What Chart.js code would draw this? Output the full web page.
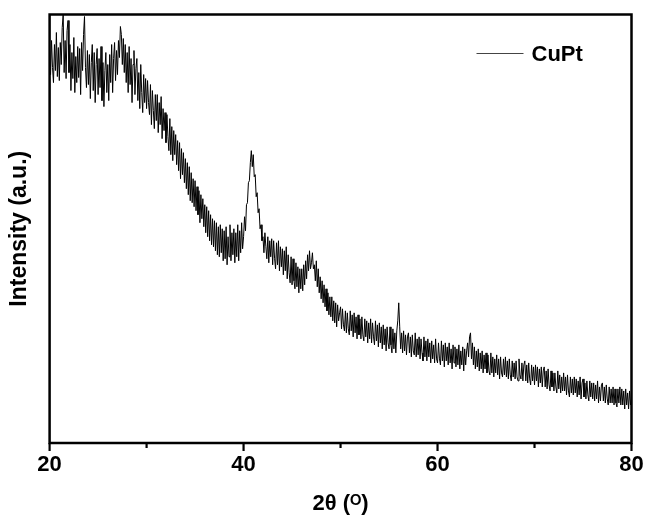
<!DOCTYPE html>
<html>
<head>
<meta charset="utf-8">
<script src="https://cdn.jsdelivr.net/npm/chart.js@4/dist/chart.umd.min.js"></script>
<style>
  html, body { margin: 0; padding: 0; background: #fff; }
  #wrap { width: 646px; height: 518px; }
</style>
</head>
<body>
<div id="wrap"><canvas id="c" width="646" height="518"></canvas></div>
<script>
// ---- data ----
const seriesName = 'CuPt';
const thetaStart = 20;      // first 2θ sample (degrees)
const thetaStep = 0.1;      // sampling step (degrees)
const xTickLabels = [20, 40, 60, 80];
const xMinorTicks = [30, 50, 70];
// one row per degree: 2θ = n.0, n.1, ... n.9
const intensity = [
  392, 368, 402, 375, 360, 398, 372, 410, 366, 395,
  362, 400, 378, 415, 428, 370, 402, 364, 412, 422,
  370, 398, 352, 390, 364, 405, 350, 386, 360, 396,
  365, 394, 348, 400, 372, 408, 426, 375, 355, 392,
  358, 388, 344, 380, 398, 352, 390, 340, 378, 394,
  348, 384, 355, 396, 342, 380, 336, 372, 390, 350,
  378, 342, 388, 360, 398, 350, 384, 400, 362, 392,
  368, 402, 385, 416, 408, 378, 404, 370, 398, 360,
  390, 350, 396, 358, 384, 340, 378, 392, 348, 374,
  384, 342, 370, 334, 378, 350, 330, 368, 340, 364,
  334, 362, 340, 328, 358, 318, 352, 332, 314, 348,
  322, 348, 310, 340, 318, 346, 304, 334, 312, 330,
  300, 328, 306, 292, 324, 288, 316, 282, 312, 288,
  308, 278, 302, 272, 300, 264, 294, 268, 290, 260,
  284, 254, 280, 248, 276, 242, 270, 240, 264, 236,
  262, 232, 256, 228, 252, 220, 248, 224, 244, 216,
  238, 210, 236, 206, 232, 202, 228, 198, 224, 196,
  222, 192, 220, 188, 216, 186, 218, 190, 214, 182,
  212, 184, 216, 178, 206, 186, 218, 182, 210, 188,
  214, 180, 210, 186, 218, 182, 212, 190, 220, 194,
  206, 226, 212, 238, 240, 260, 262, 280, 292, 276,
  288, 266, 268, 246, 250, 230, 234, 214, 218, 202,
  206, 190, 210, 196, 184, 206, 180, 202, 186, 204,
  178, 202, 184, 174, 200, 178, 202, 172, 196, 176,
  194, 168, 192, 172, 196, 164, 188, 170, 160, 186,
  158, 184, 162, 154, 180, 156, 176, 150, 174, 154,
  174, 152, 178, 158, 182, 164, 188, 172, 192, 174,
  180, 190, 174, 178, 162, 182, 156, 174, 150, 166,
  144, 162, 140, 158, 136, 154, 132, 150, 128, 146,
  126, 146, 122, 142, 120, 140, 116, 138, 122, 130,
  136, 114, 134, 118, 112, 132, 110, 130, 114, 108,
  132, 112, 128, 106, 130, 110, 126, 104, 128, 108,
  124, 104, 126, 108, 102, 124, 106, 122, 100, 120,
  104, 124, 100, 120, 106, 98, 122, 102, 118, 96,
  120, 100, 116, 94, 118, 98, 114, 92, 116, 100,
  94, 116, 98, 90, 114, 94, 110, 90, 112, 122,
  140, 116, 94, 110, 90, 112, 92, 108, 88, 106,
  110, 90, 106, 86, 108, 92, 88, 110, 86, 104,
  88, 106, 84, 104, 90, 82, 106, 86, 102, 82,
  104, 86, 100, 80, 102, 84, 98, 80, 104, 84,
  80, 100, 84, 78, 102, 82, 98, 76, 100, 82,
  96, 78, 100, 80, 94, 74, 98, 80, 96, 76,
  94, 78, 98, 74, 92, 78, 96, 72, 94, 78,
  92, 100, 86, 106, 110, 84, 100, 78, 96, 74,
  92, 76, 94, 72, 90, 74, 92, 70, 88, 74,
  90, 70, 88, 72, 68, 90, 70, 86, 66, 84,
  70, 88, 68, 84, 64, 86, 70, 66, 84, 68,
  86, 66, 82, 64, 84, 68, 62, 82, 66, 80,
  64, 82, 66, 62, 84, 68, 64, 80, 62, 78,
  82, 62, 78, 60, 80, 64, 58, 78, 62, 76,
  58, 78, 62, 76, 56, 74, 60, 76, 56, 72,
  76, 56, 72, 54, 74, 58, 52, 72, 56, 70,
  52, 70, 56, 50, 72, 54, 68, 50, 66, 52,
  70, 52, 66, 48, 68, 52, 46, 66, 50, 64,
  48, 66, 50, 64, 46, 62, 48, 66, 44, 60,
  64, 46, 60, 44, 62, 48, 42, 62, 46, 60,
  44, 60, 42, 58, 44, 62, 40, 56, 42, 58,
  60, 42, 56, 40, 58, 44, 38, 56, 40, 54,
  40, 56, 38, 54, 40, 36, 54, 40, 56, 38,
  54, 38, 52, 34, 54, 38, 50, 34, 52, 38,
  44
];

const points = intensity.map((v, i) => ({ x: +(thetaStart + i * thetaStep).toFixed(2), y: v }));

// ---- plugins: frame, tick marks, legend ----
const framePlugin = {
  id: 'frame',
  afterDraw(chart) {
    const { ctx, chartArea: a, scales } = chart;
    ctx.save();
    ctx.strokeStyle = '#000';
    ctx.lineWidth = 2.5;
    ctx.strokeRect(a.left, a.top, a.right - a.left, a.bottom - a.top);
    const xs = scales.x;
    ctx.lineWidth = 2.2;
    xTickLabels.forEach(v => {
      const px = xs.getPixelForValue(v);
      ctx.beginPath(); ctx.moveTo(px, a.bottom); ctx.lineTo(px, a.bottom + 8); ctx.stroke();
    });
    xMinorTicks.forEach(v => {
      const px = xs.getPixelForValue(v);
      ctx.beginPath(); ctx.moveTo(px, a.bottom); ctx.lineTo(px, a.bottom + 5); ctx.stroke();
    });
    const ds = chart.data.datasets[0];
    const lx = a.right - 155, ly = a.top + 39;
    ctx.strokeStyle = '#444';
    ctx.lineWidth = 1;
    ctx.beginPath(); ctx.moveTo(lx, ly); ctx.lineTo(lx + 47, ly); ctx.stroke();
    ctx.fillStyle = '#000';
    ctx.font = 'bold 22px "Liberation Sans", Arial, sans-serif';
    ctx.textBaseline = 'middle';
    ctx.textAlign = 'left';
    ctx.fillText(ds.label, lx + 55, ly + 1);
    ctx.restore();
  }
};

new Chart(document.getElementById('c'), {
  type: 'line',
  data: {
    datasets: [{
      label: seriesName,
      data: points,
      borderColor: '#000',
      borderWidth: 1,
      pointRadius: 0,
      tension: 0,
      fill: false
    }]
  },
  options: {
    responsive: false,
    animation: false,
    devicePixelRatio: 1,
    layout: { padding: { left: 0, right: 14.5, top: 14.5, bottom: 0 } },
    plugins: { legend: { display: false }, tooltip: { enabled: false } },
    scales: {
      x: {
        type: 'linear',
        min: 20, max: 80,
        grid: { display: false, drawTicks: false },
        border: { display: false },
        afterFit: s => { s.paddingLeft = 0; s.paddingRight = 0; },
        ticks: {
          stepSize: 10,
          padding: 9,
          color: '#000',
          font: { family: '"Liberation Sans", Arial, sans-serif', size: 22, weight: 'bold', lineHeight: 1.2 },
          callback: v => xTickLabels.includes(v) ? String(v) : ''
        },
        title: {
          display: true,
          text: '2θ (ᴼ)',
          color: '#000',
          font: { family: '"Liberation Sans", "DejaVu Sans", Arial, sans-serif', size: 22, weight: 'bold', lineHeight: 1.2 },
          padding: { top: 3.2, bottom: 1 }
        }
      },
      y: {
        min: 0, max: 428,
        grid: { display: false, drawTicks: false },
        border: { display: false },
        ticks: { display: false },
        title: {
          display: true,
          text: 'Intensity (a.u.)',
          color: '#000',
          font: { family: '"Liberation Sans", Arial, sans-serif', size: 23, weight: 'bold', lineHeight: 1.2 },
          padding: { top: 6, bottom: 16 }
        }
      }
    }
  },
  plugins: [framePlugin]
});
</script>
</body>
</html>
